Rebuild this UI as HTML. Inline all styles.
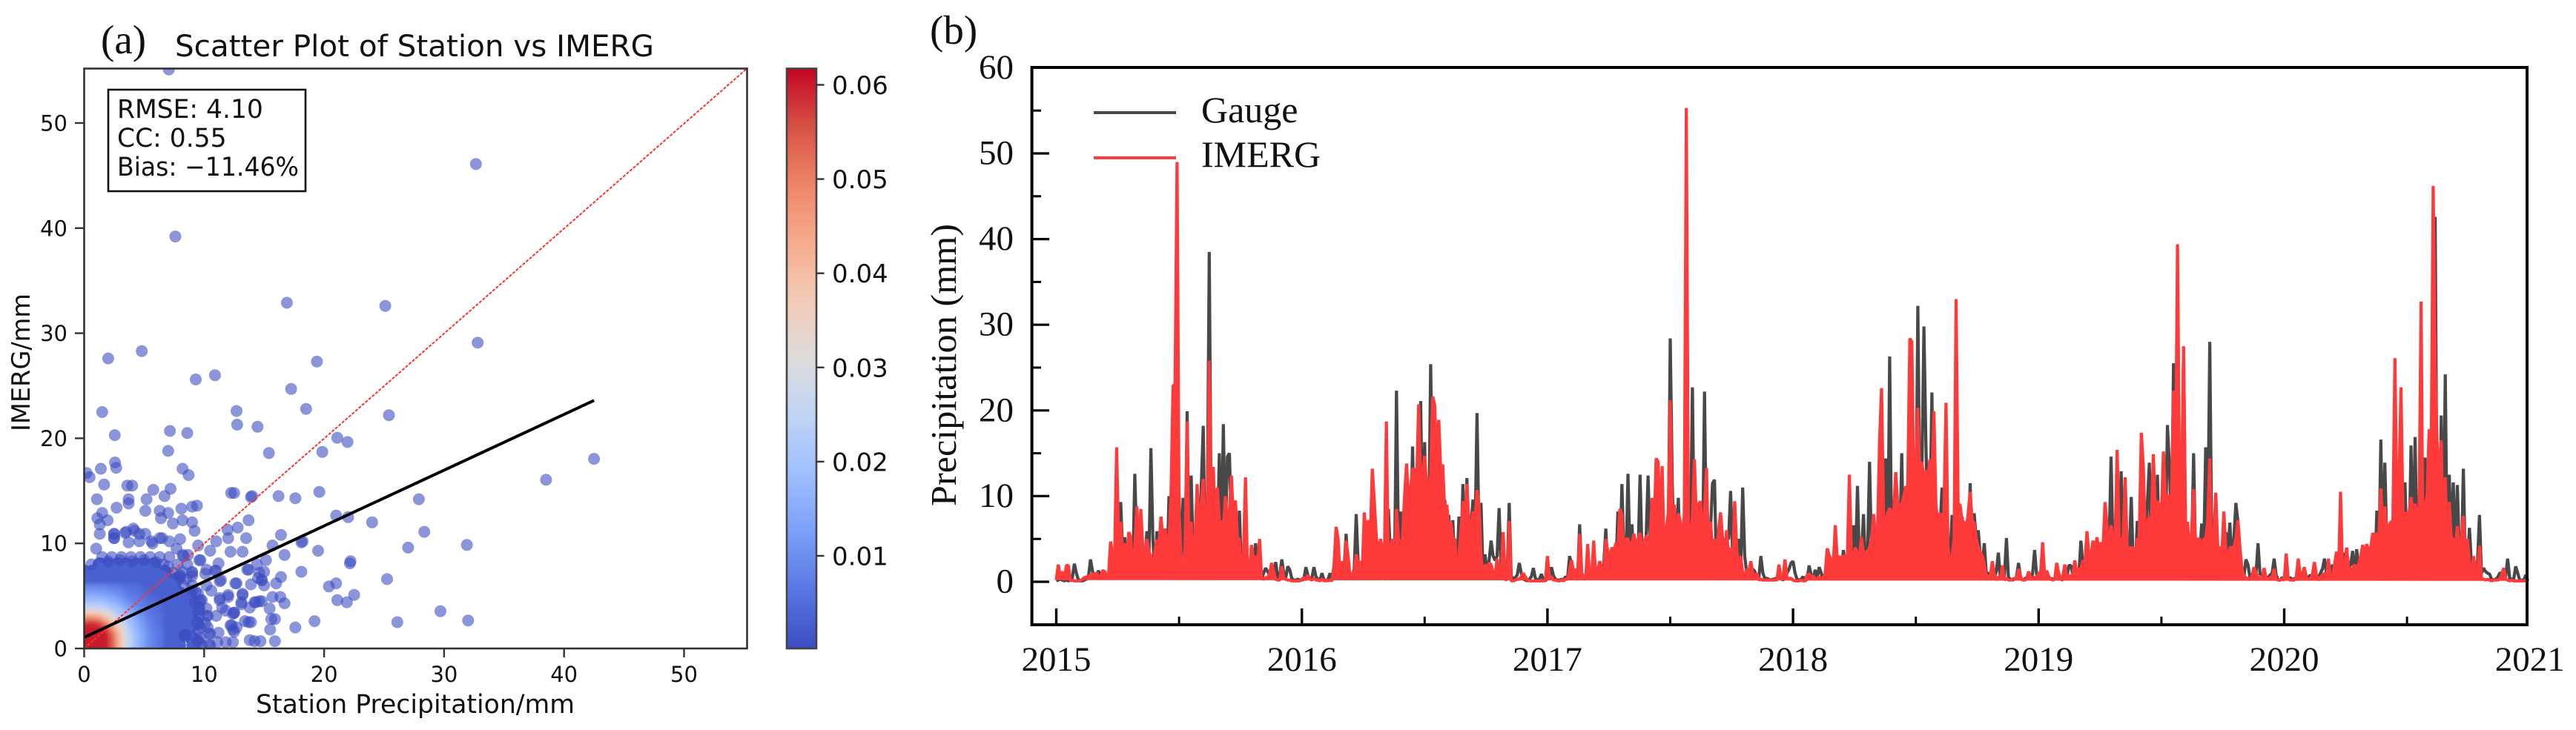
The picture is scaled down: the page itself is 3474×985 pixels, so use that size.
<!DOCTYPE html>
<html lang="en">
<head>
<meta charset="utf-8">
<title>Station vs IMERG precipitation</title>
<style>
html,body{margin:0;padding:0;background:#fff;}
svg{display:block;}
.dj{font-family:"DejaVu Sans","Liberation Sans",sans-serif;fill:#111;}
.tm{font-family:"Liberation Serif",serif;fill:#111;}
</style>
</head>
<body>
<svg id="chart" xmlns="http://www.w3.org/2000/svg" width="3474" height="985" viewBox="0 0 3474 985">
<rect x="0" y="0" width="3474" height="985" fill="#fff"/>
<defs>
<clipPath id="scatterClip"><rect x="113.5" y="92.5" width="894" height="782.5"/></clipPath>
<linearGradient id="cbarGrad" x1="0" y1="1" x2="0" y2="0"></linearGradient>
<filter id="coreBlur" filterUnits="userSpaceOnUse" x="60" y="700" width="300" height="230"><feGaussianBlur stdDeviation="3"/></filter>
</defs>
<g id="panelA">
<g id="scatterMarks" clip-path="url(#scatterClip)">
<g id="fringeLayer"></g>
<g id="sparseLayer"></g>
<g id="coreLayer" filter="url(#coreBlur)"></g>
</g>
<rect x="113.5" y="92.5" width="894" height="782.5" fill="none" stroke="#333" stroke-width="2.6"/>
<g id="scatterTicks"></g>
<text class="tm" x="136" y="72" font-size="55">(a)</text>
<text class="dj" x="236" y="76" font-size="40" textLength="646" lengthAdjust="spacingAndGlyphs">Scatter Plot of Station vs IMERG</text>
<text class="dj" x="345" y="962" font-size="34.5" textLength="430" lengthAdjust="spacingAndGlyphs">Station Precipitation/mm</text>
<text class="dj" transform="translate(40,582) rotate(-90)" font-size="33.5" textLength="186" lengthAdjust="spacingAndGlyphs">IMERG/mm</text>
<g>
<rect x="146" y="121" width="266" height="137" fill="#fff" stroke="#111" stroke-width="2.6"/>
<text class="dj" x="158" y="159" font-size="34.5">RMSE: 4.10</text>
<text class="dj" x="158" y="198" font-size="34.5">CC: 0.55</text>
<text class="dj" x="158" y="237" font-size="34.5" textLength="245" lengthAdjust="spacingAndGlyphs">Bias: −11.46%</text>
</g>
<g id="colorbar"></g>
</g>
<g id="panelB">
<g id="seriesMarks"></g>
<rect x="1391.6" y="91" width="2016.4" height="752" fill="none" stroke="#000" stroke-width="4"/>
<g id="seriesTicks"></g>
<text class="tm" x="1254" y="59" font-size="55">(b)</text>
<text class="tm" transform="translate(1289,683) rotate(-90)" font-size="49" textLength="381" lengthAdjust="spacingAndGlyphs">Precipitation (mm)</text>
<g>
<line x1="1475" y1="152" x2="1586" y2="152" stroke="#484848" stroke-width="4"/>
<text class="tm" x="1620" y="165" font-size="50">Gauge</text>
<line x1="1475" y1="213" x2="1586" y2="213" stroke="#ff3c3c" stroke-width="4"/>
<text class="tm" x="1620" y="225" font-size="50">IMERG</text>
</g>
</g>
</svg>
<script>
/* ---------- Panel (a) data ---------- */
const scatterTickValues = [0,10,20,30,40,50];
const colorbarTickValues = [0.01,0.02,0.03,0.04,0.05,0.06];
const colorbarTickLabels = ['0.01','0.02','0.03','0.04','0.05','0.06'];
const sparseDensity = 0.0005;
const fringeDensity = 0.003;
const fitStart = [0,1.05];
const fitEnd = [42.5,23.6];

const sparseX = [7.06,32.65,7.6,16.9,25.1,32.8,4.8,2,19.4,10.9,9.3,17.25,18.5,1.5,12.7,25.4,12.75,14.45,7.15,8.6,2.55,21.1,21.95,7,15.4,19.85,42.5,38.5,
2.57,2.67,1.39,.2,.45,8.2,8.7,1.66,3.6,4,5.76,7.2,6.7,5.2,1.06,3.7,3.7,2.7,5.1,6.3,7,8.1,9,9.4,1.5,1.1,1.95,6.4,7.4,8.2,9,9.2,1.3,1.3,2.5,2.5,3.5,4.1,4.6,5.1,6.3,7.1,8,1,5.7,
12.25,12.5,14,13.9,16.2,17.6,19.6,13.7,12.8,11.95,12,13.5,11,16.4,15.7,18.1,18.2,21,22,24,27.9,28.35,27,19.5,16.7,15.15,18.1,22.2,22.15,16.4,16,21,20.4,25.25,22.5,21.1,21.9,16.35,16.7,15.7,15.45,15.6,15.9,19.2,17.6,26.1,15.5,15.9,13.8,14.2,14.7,29.7,32,31.9,
12.2,13.2,10.5,9.5,11.2,10.9,13.6,14.4,14.6,15,14.8,15,13.9,11.3,12.6,10.1,9.7,8.2,8.65,9,8,13.2,12,11.3,11.3,9.7,9.3,10.3,12.5,12.4,11.5,13.1,14.2,14.6,13.8,13.9,13.4,12.4,12.5,12.2,10.5,11.1,12.4,8.35,8.4,9.5,10.3,
12.5,10.4,12.3,8.5,11,10.2,13.7,14.5,14.8,13.2,12.7,11.4,10.2,9.8,12,14.3,14.8,13.1,11.8,12.7,11.2,9.6,10.4,11.8,13.7,9.4,9.2,10.6,9,9.6,8.3,11,10.2,8,7.7,6.5,5.6,4.2,3.4,2.5,2.5,3.7,4.6,
1.5,2.3,3.1,3.9,4.7,5.5,6.3,7.1,.6,6.6,7.8,8.6,8.2,9,7.4,8.5,8.3,9,9.5,9.6,10.2,9.6,10.1,9.5,9.7,9.8,10.5,
2,3,4,5,6,7,8,9,9.5,9.7,9.4];
const sparseY = [55.1,46.1,39.2,32.9,32.6,29.1,28.3,27.6,27.3,26,25.6,24.7,22.8,22.5,22.6,22.2,21.3,21.1,20.7,20.5,20.3,20.05,19.65,18.8,18.6,18.7,18.05,16.05,
17.7,17.2,17.1,16.7,16.3,17.1,16.5,15.6,15.5,15.5,15.1,15.2,14.5,14.2,14.2,14.2,13.8,13.4,13.1,13.1,12.9,13.3,13.5,13.6,12.9,12.4,12.2,12.4,11.9,12.2,12,11.2,11.8,10.9,10.9,10.5,11.1,11.4,10.9,10.9,10.5,10.2,10.4,9.5,10,
14.8,14.8,14.5,14.4,14.5,14.3,14.9,12.2,11.5,11.3,10.5,10.5,10.2,10.8,9.8,10.1,10.2,12.65,12.5,12,14.2,11.1,9.6,9.3,8.9,8.4,7.3,8.3,8.1,6.8,6.2,6.2,5.9,6.6,5.1,4.6,4.4,4.9,4.3,4.9,3.8,2.8,2.8,2.6,2,2.5,1.8,.7,.8,.7,.7,3.55,2.66,9.85,
9.2,9.2,9.3,9.8,8.1,7.4,7.5,8,7.2,7.3,6.5,6,6.1,6.4,6.2,7.1,8.4,8.9,8.9,7.2,6.8,5.2,4.9,4.8,4.6,4.6,5.4,3.1,3.4,3.3,3.9,4.2,4.4,4.5,3.9,2.5,2.6,1.8,1.6,2.2,1.4,.6,.6,1.3,1.1,.8,2,
3.4,1.4,2.2,1.3,3.1,3.1,7.5,6.7,6.5,5.1,6.2,6.5,6,4.6,5.1,4.4,4.5,4.4,3.6,2,1.5,.6,.35,.6,2.5,2.5,4.4,5.5,6.9,8.4,8.8,7.4,7.5,6.8,9.5,10.5,10.2,11.2,11,10.5,10.9,10.1,10.2,
8.7,8.7,8.7,8.7,8.7,8.7,8.7,8.7,8,8,8,8,7.3,7.3,7.2,6.6,6,6,5.2,4.5,3.8,3.1,2.4,1.7,1,.3,.3,
8.3,8.4,8.3,8.4,8.2,7.8,7,5.5,3.5,2,.7];

const fringeX = [1.3,2,2.8,3.5,4.3,5,5.8,
0,.7,1.5,2.2,3,3.7,4.5,5.2,6,6.7,
0,.8,1.6,2.3,3.1,3.9,4.6,5.4,6.1,6.9,7.7,
0,.7,1.5,2.2,3,3.7,4.4,5.2,5.9,6.7,7.5,
6.6,7.3,8,8.8,
6.6,7.3,8,8.8,
6.6,7.3,8,8.8,9.5,
6.6,7.3,8.1,8.9,
6.6,7.3,8,8.7,9.4,
6.6,7.3,8,8.7,
6.6,7.3,7.9,9,
6.6,7.3,7.9,9.1];
const fringeY = [8,8,8,8,8,8,8,
7.3,7.3,7.3,7.3,7.3,7.3,7.3,7.3,7.3,7.3,
6.6,6.6,6.6,6.6,6.6,6.6,6.6,6.6,6.6,6.6,6.6,
6,6,6,6,6,6,6,6,6,6,6,
5.2,5.2,5.2,5.2,
4.5,4.5,4.5,4.5,
3.8,3.8,3.8,3.8,3.8,
3.1,3.1,3.1,3.1,
2.4,2.4,2.4,2.4,2.4,
1.7,1.7,1.7,1.7,
1,1,1,1,
.3,.3,.3,.3];

const coreX = [0,.5,1,1.5,2,2.5,3,3.5,4,4.5,5,5.5,6,
0,.5,1,1.5,2,2.5,3,3.5,4,4.5,5,5.5,6,
0,.5,1,1.5,2,2.5,3,3.5,4,4.5,5,5.5,6,
0,.5,1,1.5,2,2.5,3,3.5,4,4.5,5,5.5,6,
0,.5,1,1.5,2,2.5,3,3.5,4,4.5,5,5.5,6,
0,.5,1,1.5,2,2.5,3,3.5,4,4.5,5,5.5,6,
0,.5,1,1.5,2,2.5,3,3.5,4,4.5,5,5.5,6,
0,.5,1,1.5,2,2.5,3,3.5,4,4.5,5,5.5,6,
0,.5,1,1.5,2,2.5,3,3.5,4,4.5,5,5.5,6,
0,.5,1,1.5,2,2.5,3,3.5,4,4.5,5,5.5,6,
0,.5,1,1.5,2,2.5,3,3.5,4,4.5,5,5.5,6,
0,.5,1,1.5,2,2.5,3,3.5,4,4.5,5,5.5,6];
const coreY = [0,0,0,0,0,0,0,0,0,0,0,0,0,
.5,.5,.5,.5,.5,.5,.5,.5,.5,.5,.5,.5,.5,
1,1,1,1,1,1,1,1,1,1,1,1,1,
1.5,1.5,1.5,1.5,1.5,1.5,1.5,1.5,1.5,1.5,1.5,1.5,1.5,
2,2,2,2,2,2,2,2,2,2,2,2,2,
2.5,2.5,2.5,2.5,2.5,2.5,2.5,2.5,2.5,2.5,2.5,2.5,2.5,
3,3,3,3,3,3,3,3,3,3,3,3,3,
3.5,3.5,3.5,3.5,3.5,3.5,3.5,3.5,3.5,3.5,3.5,3.5,3.5,
4,4,4,4,4,4,4,4,4,4,4,4,4,
4.5,4.5,4.5,4.5,4.5,4.5,4.5,4.5,4.5,4.5,4.5,4.5,4.5,
5,5,5,5,5,5,5,5,5,5,5,5,5,
5.5,5.5,5.5,5.5,5.5,5.5,5.5,5.5,5.5,5.5,5.5,5.5,5.5];
const coreD = [.06,.06,.06,.059,.052,.041,.031,.024,.018,.014,.01,.008,.006,
.06,.06,.06,.06,.054,.043,.032,.024,.018,.014,.01,.008,.006,
.06,.06,.06,.06,.053,.042,.032,.024,.018,.014,.01,.008,.006,
.06,.06,.06,.057,.049,.039,.03,.022,.017,.013,.01,.007,.006,
.057,.058,.056,.051,.042,.034,.026,.02,.016,.012,.009,.007,.005,
.047,.048,.046,.04,.035,.028,.022,.018,.014,.011,.008,.006,.005,
.035,.036,.035,.032,.027,.022,.02,.016,.012,.01,.007,.006,.005,
.026,.026,.025,.024,.021,.019,.016,.013,.01,.008,.006,.005,.004,
.02,.02,.02,.019,.017,.015,.012,.01,.008,.007,.005,.005,.004,
.016,.016,.015,.014,.013,.012,.01,.008,.007,.006,.005,.004,.003,
.012,.012,.012,.011,.01,.009,.008,.006,.006,.005,.004,.003,.003,
.009,.009,.008,.008,.007,.007,.006,.005,.005,.004,.003,.003,.003];

/* ---------- Panel (b) data: one reading every 3 days ---------- */
const yearStarts = [2015,2016,2017,2018,2019,2020];
const xTickYears = [2015,2016,2017,2018,2019,2020,2021];
const xMinorYears = [2015.5,2016.5,2017.5,2018.5,2019.5,2020.5];
const yMajorValues = [0,10,20,30,40,50,60];
const yMinorValues = [5,15,25,35,45,55];

const gauge2015 = [.1,.2,.3,.2,.1,.2,.1,.2,.5,2.1,
1,.2,.1,.1,.2,.3,.6,2.6,1.2,.6,
.8,1.3,.5,.7,.9,.4,.6,1.5,.8,2,
4,3,9.3,3,5.2,1.5,3,2,1,12.6,
4,1,3,.7,2,5.9,2.5,15.6,5,.7,
5.9,1.5,4,2,3,1,10,3,1.2,3,
3,10.2,1.5,9.8,2,19.9,.8,12.4,3,1.5,
5,2,11,18.2,2,7,38.5,6,4,2,
4,15,3,18.4,5,14.6,15,6,2,5,
3,8.3,1,3,2,.6,.8,1,1.5,4.5,
2,2.5,.3,1,1.6,1.2,.8,1.4,.6,2.3,
.5,.6,2.6,1,.5,1.8,1.4,.4,.2,.2,
.3,.2];
const imerg2015 = [.2,2,.6,1.2,.2,1.9,1.9,.1,.2,.1,
.1,.1,.1,.3,.5,.5,.8,.3,1,.4,
1.1,.5,.6,1.3,1.2,.5,1,4.7,3,3,
15.7,4,7,3,4.5,2.5,5.8,5.2,.6,4,
8.8,3.5,8.5,4,2,5,3.5,3,.8,3.5,
4.9,4,7.6,5,6.2,4,5,10,22.9,23,
49,8,3,.5,4,18.7,1.2,7,3,5,
11.4,6,9,12,6,7,25.8,8,13.4,6,
11,7,7,6,10,7,8,12.4,7,9.5,
5,5,.5,3,12.2,1,1,4.3,2.5,3,
2,5,.4,.3,.5,.4,1,2.2,1.2,.3,
.2,.2,1.8,.4,.3,.2,.2,.1,.1,.1,
.1,.1];
const gauge2016 = [.2,.3,1.7,.8,.3,.5,1.7,.6,.3,.2,
1,.2,.1,.3,1,.3,.5,.8,1,.3,
.5,1.5,5.6,1,.5,.6,1.5,7.9,2,1,
.5,.4,2,5,1,4,2,.8,1,.5,
.8,1,.2,8.5,3,1,.5,22.3,4,8.2,
1,5,8,3,5,15.8,4,3,6,21.1,
5,16.3,3,5,25.4,8,10,4,8,6,
5,9.6,4,7.8,2,7.2,1,.8,7.6,3,
11.4,1,12.1,3,6.5,9.6,5,19.7,5,9.2,
1,3.2,1,2.5,4.8,3,2.5,3,8.6,1.5,
.5,.3,1,9.2,.7,.3,.5,.8,2.2,1,
.3,.2,.1,.3,.6,1.6,.4,.2,.3,.9,
.2,.1];
const imerg2016 = [.3,.5,.2,.8,.3,.2,.4,.2,.2,.1,
.3,.1,.2,.1,.2,.1,2,6.4,5,.4,
2.4,.8,4.8,3,.4,1,1,3.2,2,2.4,
1,8.1,5,7.2,5,13.2,9.4,5.2,3,5,
3.9,3,18.7,1,4,5,.8,8.5,5,4,
5,10,13.8,9,11,13.2,13.1,11,20.7,11,
12.8,14.7,11,11,12.5,21.6,20.6,13,18.9,13,
13.7,8,9,6,7,5,5,.8,3,6,
9.4,7,11.4,7,6,8.2,7,10.7,9,3,
.5,2,1.5,2.2,2,1,.8,2.7,1,1,
5.8,.2,.3,7.1,.1,.1,.2,.3,.3,.6,
1,.6,.2,.1,.1,.1,.1,.1,.1,.1,
.1,.2];
const gauge2017 = [.5,.3,1.7,.7,.3,.2,.2,.3,.2,.6,
.4,3,2,.5,.4,.3,6.7,1,.5,.4,
1,.5,1.2,2,.4,.8,1,1.5,2,6.2,
1,1,4,2,1.5,8.2,2,11.4,3,2,
12.6,3,6.7,2,4,3,12.5,3,2,5,
12.4,4,3,5,3,5,2,4,3,6.3,
4,28.4,11.5,3,5,9.8,2,6,5,3,
2,4,22.7,3,4,2,5,1.5,22.2,3,
2,6,11.5,11.9,1,2,1.5,3,5,5,
5,10.6,3,4,2,5,1.5,11,3,1,
1.5,1,1.5,1.2,.4,.4,3,1,.4,.4,
.3,.2,.3,.3,.5,.8,.4,.2,.4,1,
1.5,2.2];
const imerg2017 = [3,.4,.6,.2,.2,.1,.1,.2,.1,.3,
.3,1.5,2.5,1,1.5,.5,5.6,1,.3,.4,
4.4,.5,.6,4.8,.3,1.5,2.4,1.5,.8,5,
3.5,3,4,3.5,4.5,4,8.5,7.8,3,5,
5,4,4.5,5.6,4,5,5.7,4,4.5,5.4,
5,5,9.8,6,14.4,14,6,13.5,3,6,
8,21.2,8,9,3,8,7,4,8,55.3,
7,5,7.4,14.3,7,9,9.4,6,8,13.3,
3,7,4,5,3,6,8.1,5,3,6,
3,4,2,9.4,4,.5,3,1,.7,1.5,
1,2.4,1,.5,1,.2,.3,.2,.2,.2,
.2,.2,.2,.2,.2,2,.4,.3,2.6,.4,
.4,.4];
const gauge2018 = [2.4,1,.3,.2,.3,.6,.1,.3,1.9,.8,
.3,1.4,.4,1.7,1,.3,1,2,1,.5,
.5,1.2,.6,1.5,1,3.7,2,1,1,2,
6.6,2,11.2,2,3,7.9,1.5,3,14,3,
1,3,.7,3,1.5,5,14.4,1,26.3,4,
8,3,5,4,15,2,8,3,4,6,
8,5,32.2,9,12,29.8,16,5,7,22.1,
3,8,1.5,6,11,2,3,1.5,3,7.8,
2,1,3,4,7.6,3,1,4,11.5,3,
8,5,6,3,2,4.5,1,1,.8,1,
.5,1.2,3.4,.4,1,.5,5.1,.5,.3,.2,
.3,.5,2.2,.5,.2,.3,.5,.8,.2,1,
3.7,.8];
const imerg2018 = [.2,.1,.1,.1,.2,.1,.1,.8,.9,.5,
.7,.3,.4,.6,.3,.5,1,3.9,3,2.6,
2,6.6,2.5,3,2.5,3,3,3,12.5,3,
3,4,3,3,5.2,3,3.5,3.5,4,5,
7.9,5,6,16.4,22.6,7,7,8,8.6,8,
8,12.8,9,9,9,10,11.1,11,28.4,28,
11,12,20.3,12,14,12,13,12,14.3,12,
19.9,8.9,7,8,7,8.2,20.9,4,2,3,
5,33,9,9,7,7,6,8,10.5,7,
6.9,5,4,3.5,3,2,.7,.5,.7,2.4,
.8,.2,.6,.3,1.9,.2,.4,.2,.2,.3,
.4,.3,1.5,.6,.2,.2,.3,1.2,.5,.3,
.6,.3];
const gauge2019 = [1,.5,1,.8,.3,.5,.4,.3,.3,1,
.5,.3,.2,1,.5,1.9,1.9,.8,1.5,.5,
.8,4.8,2,1.5,2,1,2,1,1.5,2,
1,2,2.5,3,2,4,14.6,3,2,3,
1.5,12.9,3,4,2,3,9.9,2,1,7.1,
2,4,3,2,9,13.9,3,6,3,12.5,
3,8,6,4,18.3,13.4,5,25.5,10,8,
5,8,27,5,3,5,3,15,2,5,
3,6.8,3,15.7,4,28,4,5,1.5,4,
.8,2,3,5.8,3,6.9,2,5,9.2,7,
2,1.5,.6,2.6,2,.5,.5,.8,1,4.5,
.8,1,.4,.5,.5,.8,1,2.7,.8,.2,
.2,.5];
const imerg2019 = [1,1,4.6,.8,1.3,.6,.3,.2,.3,2.2,
1,.4,.6,2,.6,.8,.4,1,2.5,.7,
1.5,1.5,2.5,2,5.9,3,3,4.8,3.5,5.2,
3.5,4.6,4,9.3,6.5,4,6.6,5,5,15.4,
5,5,5,12.2,4,4,3.9,4,3,5,
5,17.4,13.5,5,7,7.6,7,14.9,8,9.4,
9,8,15.2,10,10,10,10,22.3,12,39.4,
11,9,27.5,6,7,2,6,10.8,4,5,
5,3,5,5,7,14.4,1,5,10.4,4,
4,3,8.2,3.5,3,4,4,4,5,7.2,
4,1.5,.6,.5,.3,.3,.7,1.7,1,.5,
.5,.4,1.6,.4,.3,.5,.5,1.5,.3,.2,
.2,.3];
const gauge2020 = [.3,.5,.3,.5,.2,.4,.3,.5,.3,1,
1.5,.6,.5,.8,.4,.5,.4,.5,1,1.5,
2.7,1,.8,1,2,.8,1,1.5,1,1,
3.4,.7,1.5,2,3.6,.6,3.8,1.5,1,1.5,
1,1.5,1,2,1,.8,8.3,2,16.6,3,
13.9,4,2,3,2,3,2,4,3,5,
11.6,3,2.5,15.9,3,16.9,3,5,3,5,
14.5,2,4,2,6,42.6,3,.5,19.4,3,
24.2,2,12.5,4,11.6,3,11.3,3,2,13.2,
1.5,2,6.3,2,1,1.5,2,7.8,1,1.6,
1.2,1,.9,.3,.2,.3,.5,1,1,1.2,
.6,2.7,.4,.3,.3,1.8,1,.2,.2,.2,
.8,.1];
const imerg2020 = [.2,3.3,.3,.2,.2,.2,.6,2.7,.6,.8,
1.7,.3,.4,.3,.8,2.3,.8,.2,.5,.8,
1,.3,2.7,.4,.5,2,3.5,1,10.5,.8,
1.5,4,1.5,1.5,1.5,2,1.5,2,3,4.3,
3,4.4,3.5,4,5.7,5,5.7,5,10.9,6,
8.8,6,6.5,7,7,26.1,8,11,22.7,7,
8,8,8,9.9,8,9.1,8,8,32.7,.5,
9,10,17.8,14,46.2,24.9,16,12,16.5,4,
12.2,3,9.3,5,5,4,6.5,3,5,7.7,
3,5,2,.8,3,1.5,.5,4.2,.4,.3,
.2,.3,.2,.1,.2,.2,.2,.3,.8,1.6,
.3,.2,.1,.2,.1,.1,.1,.1,.1,.1,
.1,.1];

const gaugeYears = [gauge2015,gauge2016,gauge2017,gauge2018,gauge2019,gauge2020];
const imergYears = [imerg2015,imerg2016,imerg2017,imerg2018,imerg2019,imerg2020];

/* ---------- Axis functions ---------- */
const NS = 'http://www.w3.org/2000/svg';
const mk = tag => document.createElementNS(NS, tag);
const xA = v => 113.5 + v * 16.18;
const yA = v => 875 - v * 14.18;
const yCbar = d => 750 - (d - 0.01) * 12710;
const xB = yr => 1424.5 + (yr - 2015) * 331.2;
const yB = v => 785 - v * 11.56;

const ramp = [[59,76,192],[89,119,227],[123,159,249],[158,190,255],[192,212,245],[221,220,220],[242,203,183],[247,172,142],[238,132,104],[214,82,68],[195,5,35]];
function densityColor(d){
  const t = Math.max(0, Math.min(1, (d - 0.00016) / (0.0617 - 0.00016))) * (ramp.length - 1);
  const i = Math.min(ramp.length - 2, Math.floor(t));
  const f = t - i;
  const c = [0,1,2].map(k => Math.round(ramp[i][k] + (ramp[i+1][k] - ramp[i][k]) * f));
  return 'rgb(' + c.join(',') + ')';
}

/* ---------- Scatter marks ---------- */
const marks = document.getElementById('scatterMarks');
const sparseLayer = document.getElementById('sparseLayer');
sparseX.forEach((x, i) => {
  const dot = mk('circle');
  
  
  dot.setAttribute('cx', xA(x).toFixed(1));
  dot.setAttribute('cy', yA(sparseY[i]).toFixed(1));
  dot.setAttribute('r', '8');
  dot.setAttribute('fill', densityColor(sparseDensity));
  dot.setAttribute('fill-opacity', '0.6');
  sparseLayer.appendChild(dot);
});
const fringeLayer = document.getElementById('fringeLayer');
fringeX.forEach((x, i) => {
  const dot = mk('circle');
  
  
  dot.setAttribute('cx', xA(x).toFixed(1));
  dot.setAttribute('cy', yA(fringeY[i]).toFixed(1));
  dot.setAttribute('r', '9.5');
  dot.setAttribute('fill', densityColor(fringeDensity));
  fringeLayer.appendChild(dot);
});
const coreLayer = document.getElementById('coreLayer');
coreX.map((x, i) => [x, coreY[i], coreD[i]]).sort((a, b) => a[2] - b[2]).forEach(p => {
  const dot = mk('circle');
  
  
  dot.setAttribute('cx', xA(p[0]).toFixed(1));
  dot.setAttribute('cy', yA(p[1]).toFixed(1));
  dot.setAttribute('r', '10');
  dot.setAttribute('fill', densityColor(p[2]));
  coreLayer.appendChild(dot);
});
const oneToOne = mk('line');


oneToOne.setAttribute('x1', xA(0));
oneToOne.setAttribute('y1', yA(0));
oneToOne.setAttribute('x2', xA(55.26));
oneToOne.setAttribute('y2', yA(55.2));
oneToOne.setAttribute('stroke', '#ff3030');
oneToOne.setAttribute('stroke-width', '2');
oneToOne.setAttribute('stroke-dasharray', '4 2');
marks.appendChild(oneToOne);
const fitLine = mk('line');


fitLine.setAttribute('x1', xA(fitStart[0]));
fitLine.setAttribute('y1', yA(fitStart[1]));
fitLine.setAttribute('x2', xA(fitEnd[0]));
fitLine.setAttribute('y2', yA(fitEnd[1]));
fitLine.setAttribute('stroke', '#000');
fitLine.setAttribute('stroke-width', '4');
marks.appendChild(fitLine);

/* ---------- Scatter ticks ---------- */
const sTicks = document.getElementById('scatterTicks');
scatterTickValues.forEach(v => {
  const tx = mk('line');
  
  
  tx.setAttribute('x1', xA(v)); tx.setAttribute('x2', xA(v));
  tx.setAttribute('y1', 875); tx.setAttribute('y2', 887);
  tx.setAttribute('stroke', '#333'); tx.setAttribute('stroke-width', '2.4');
  sTicks.appendChild(tx);
  const lx = mk('text');
  
  
  lx.setAttribute('class', 'dj');
  lx.setAttribute('x', xA(v)); lx.setAttribute('y', 920);
  lx.setAttribute('font-size', '29');
  lx.setAttribute('text-anchor', 'middle');
  lx.textContent = String(v);
  sTicks.appendChild(lx);
  const ty = mk('line');
  
  
  ty.setAttribute('x1', 101); ty.setAttribute('x2', 113.5);
  ty.setAttribute('y1', yA(v)); ty.setAttribute('y2', yA(v));
  ty.setAttribute('stroke', '#333'); ty.setAttribute('stroke-width', '2.4');
  sTicks.appendChild(ty);
  const ly = mk('text');
  
  
  ly.setAttribute('class', 'dj');
  ly.setAttribute('x', 91); ly.setAttribute('y', yA(v) + 10.5);
  ly.setAttribute('font-size', '29');
  ly.setAttribute('text-anchor', 'end');
  ly.textContent = String(v);
  sTicks.appendChild(ly);
});

/* ---------- Colorbar ---------- */
const grad = document.getElementById('cbarGrad');
ramp.forEach((c, i) => {
  const st = mk('stop');
  st.setAttribute('offset', i / (ramp.length - 1));
  st.setAttribute('stop-color', 'rgb(' + c.join(',') + ')');
  grad.appendChild(st);
});
const cb = document.getElementById('colorbar');
const cbRect = mk('rect');


cbRect.setAttribute('x', 1061); cbRect.setAttribute('y', 92.5);
cbRect.setAttribute('width', 40); cbRect.setAttribute('height', 782.5);
cbRect.setAttribute('fill', 'url(#cbarGrad)');
cbRect.setAttribute('stroke', '#444'); cbRect.setAttribute('stroke-width', '2.6');
cb.appendChild(cbRect);
colorbarTickValues.forEach((d, i) => {
  const t = mk('line');
  
  
  t.setAttribute('x1', 1101); t.setAttribute('x2', 1111.5);
  t.setAttribute('y1', yCbar(d)); t.setAttribute('y2', yCbar(d));
  t.setAttribute('stroke', '#333'); t.setAttribute('stroke-width', '2.4');
  cb.appendChild(t);
  const l = mk('text');
  
  
  l.setAttribute('class', 'dj');
  l.setAttribute('x', 1122); l.setAttribute('y', yCbar(d) + 12.5);
  l.setAttribute('font-size', '34');
  l.textContent = colorbarTickLabels[i];
  cb.appendChild(l);
});

/* ---------- Time series ---------- */
function seriesPath(years){
  let d = '';
  years.forEach((vals, k) => {
    vals.forEach((v, i) => {
      const yr = yearStarts[k] + i / vals.length;
      d += (d ? 'L' : 'M') + xB(yr).toFixed(1) + ' ' + yB(v).toFixed(1);
    });
  });
  return d;
}
const sMarks = document.getElementById('seriesMarks');
const gaugeLine = mk('path');


gaugeLine.setAttribute('d', seriesPath(gaugeYears));
gaugeLine.setAttribute('fill', 'none');
gaugeLine.setAttribute('stroke', '#484848');
gaugeLine.setAttribute('stroke-width', '4.2');
gaugeLine.setAttribute('stroke-linejoin', 'bevel');
sMarks.appendChild(gaugeLine);
const imergLine = mk('path');


imergLine.setAttribute('d', seriesPath(imergYears));
imergLine.setAttribute('fill', '#ff3a3a');
imergLine.setAttribute('stroke', '#ff3a3a');
imergLine.setAttribute('stroke-width', '4.2');
imergLine.setAttribute('stroke-linejoin', 'bevel');
sMarks.appendChild(imergLine);

const bTicks = document.getElementById('seriesTicks');
xTickYears.forEach(yr => {
  if (yr < 2021) {
    const t = mk('line');
    
    
    t.setAttribute('x1', xB(yr)); t.setAttribute('x2', xB(yr));
    t.setAttribute('y1', 843); t.setAttribute('y2', 821);
    t.setAttribute('stroke', '#000'); t.setAttribute('stroke-width', '3.4');
    bTicks.appendChild(t);
  }
  const l = mk('text');
  
  
  l.setAttribute('class', 'tm');
  l.setAttribute('x', xB(yr)); l.setAttribute('y', 905);
  l.setAttribute('font-size', '47');
  l.setAttribute('text-anchor', 'middle');
  l.textContent = String(yr);
  bTicks.appendChild(l);
});
xMinorYears.forEach(yr => {
  const t = mk('line');
  
  
  t.setAttribute('x1', xB(yr)); t.setAttribute('x2', xB(yr));
  t.setAttribute('y1', 843); t.setAttribute('y2', 832);
  t.setAttribute('stroke', '#000'); t.setAttribute('stroke-width', '3');
  bTicks.appendChild(t);
});
yMajorValues.forEach(v => {
  if (v < 60) {
    const t = mk('line');
    
    
    t.setAttribute('x1', 1391.6); t.setAttribute('x2', 1415);
    t.setAttribute('y1', yB(v)); t.setAttribute('y2', yB(v));
    t.setAttribute('stroke', '#000'); t.setAttribute('stroke-width', '3.2');
    bTicks.appendChild(t);
  }
  const l = mk('text');
  
  
  l.setAttribute('class', 'tm');
  l.setAttribute('x', 1367); l.setAttribute('y', yB(v) + 14.5);
  l.setAttribute('font-size', '47');
  l.setAttribute('text-anchor', 'end');
  l.textContent = String(v);
  bTicks.appendChild(l);
});
yMinorValues.forEach(v => {
  const t = mk('line');
  
  
  t.setAttribute('x1', 1391.6); t.setAttribute('x2', 1404);
  t.setAttribute('y1', yB(v)); t.setAttribute('y2', yB(v));
  t.setAttribute('stroke', '#000'); t.setAttribute('stroke-width', '3');
  bTicks.appendChild(t);
});
</script>
</body>
</html>
